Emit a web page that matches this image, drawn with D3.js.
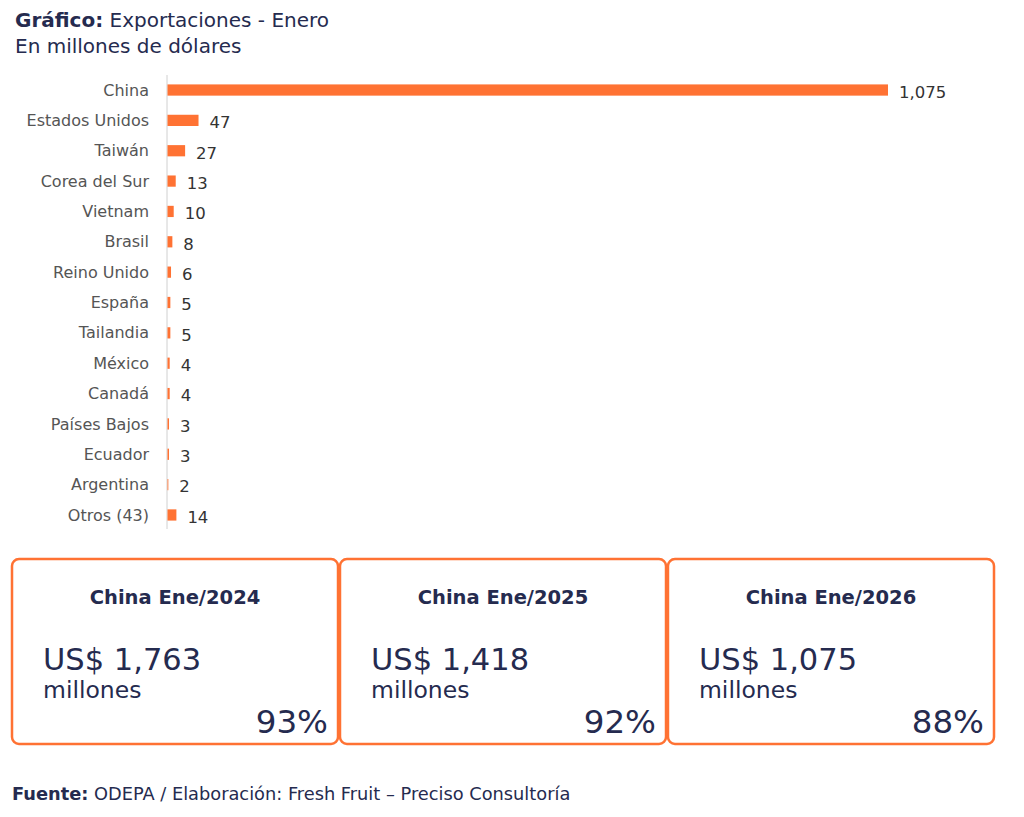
<!DOCTYPE html>
<html><head><meta charset="utf-8">
<script src="https://cdn.jsdelivr.net/npm/d3@7"></script>
<style>body{margin:0;background:#fff;} svg{display:block;font-family:"DejaVu Sans",sans-serif;}</style>
</head><body>
<svg id="c" width="1024" height="817"></svg>
<script>
const categories = ["China","Estados Unidos","Taiwán","Corea del Sur","Vietnam","Brasil","Reino Unido","España","Tailandia","México","Canadá","Países Bajos","Ecuador","Argentina","Otros (43)"];
const values = [1075,47,27,13,10,8,6,5,5,4,4,3,3,2,14];
const cardTitles = ["China Ene/2024","China Ene/2025","China Ene/2026"];
const cardValues = [1763,1418,1075];
const cardShares = [93,92,88];

const svg = d3.select("#c");
const navy = "#252b4f", orange = "#ff7233";
const fmt = d3.format(",");

// Title
const t = svg.append("text").attr("x",15).attr("y",27).attr("font-size",20).attr("fill",navy);
t.append("tspan").attr("font-weight",700).text("Gráfico:");
t.append("tspan").text(" Exportaciones - Enero");
svg.append("text").attr("x",15).attr("y",53).attr("font-size",20).attr("fill",navy).text("En millones de dólares");

const x = d3.scaleLinear().domain([0,1075]).range([167,888]);
const y = d3.scaleBand().domain(categories).range([75,530]).paddingInner(0.63).paddingOuter(0.31);

svg.append("line").attr("x1",167).attr("x2",167).attr("y1",75).attr("y2",529).attr("stroke","#d0d0d0").attr("stroke-width",1);

svg.selectAll("rect.bar").data(categories).join("rect").attr("class","bar")
  .attr("x",x(0)+0.5).attr("y",d=>y(d)).attr("height",y.bandwidth())
  .attr("width",(d,i)=>Math.max(0,x(values[i])-x(0)-0.5)).attr("fill",orange);

svg.selectAll("text.cat").data(categories).join("text").attr("class","cat")
  .attr("x",149).attr("y",d=>y(d)+y.bandwidth()/2).attr("dy","0.35em")
  .attr("text-anchor","end").attr("font-size",16).attr("fill","#555").text(d=>d);

svg.selectAll("text.val").data(categories).join("text").attr("class","val")
  .attr("x",(d,i)=>x(values[i])+11).attr("y",d=>y(d)+y.bandwidth()/2+2).attr("dy","0.35em")
  .attr("font-size",16.5).attr("fill","#333").text((d,i)=>fmt(values[i]));

// Cards
const cx = d3.scaleBand().domain(cardTitles).range([12,994]).paddingInner(0.006);
const cards = svg.selectAll("g.card").data(cardTitles).join("g").attr("class","card")
  .attr("transform",d=>`translate(${cx(d)},559)`);
const w = cx.bandwidth(), h = 185;
cards.append("rect").attr("x",0).attr("y",0).attr("width",w).attr("height",h).attr("rx",7)
  .attr("fill","#fff").attr("stroke",orange).attr("stroke-width",2.5);
cards.append("text").attr("x",w/2).attr("y",45).attr("text-anchor","middle").attr("font-size",19.5)
  .attr("font-weight",700).attr("fill",navy).text(d=>d);
cards.append("text").attr("x",31).attr("y",111).attr("font-size",30.5).attr("fill",navy)
  .text((d,i)=>"US$ "+fmt(cardValues[i]));
cards.append("text").attr("x",31).attr("y",139).attr("font-size",23.5).attr("fill",navy).text("millones");
cards.append("text").attr("x",w-10).attr("y",174).attr("text-anchor","end").attr("font-size",32.5).attr("fill",navy)
  .text((d,i)=>cardShares[i]+"%");

// Footer
const f = svg.append("text").attr("x",12).attr("y",800).attr("font-size",17.8).attr("fill",navy);
f.append("tspan").attr("font-weight",700).text("Fuente:");
f.append("tspan").text(" ODEPA / Elaboración: Fresh Fruit – Preciso Consultoría");
</script>
</body></html>
